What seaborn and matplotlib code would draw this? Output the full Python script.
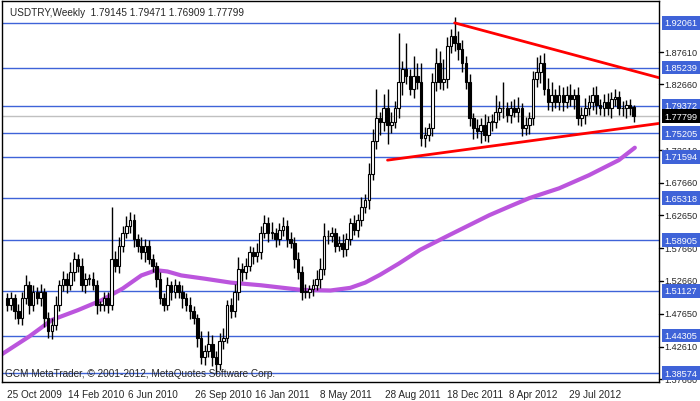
import numpy as np
import pandas as pd
import matplotlib
matplotlib.use("Agg")
import matplotlib.pyplot as plt
import matplotlib.transforms as mtrans
import seaborn as sns

closes = [1.49,1.50,1.48,1.47,1.50,1.52,1.49,1.51,1.50,1.51,1.47,1.45,1.46,1.49,1.52,1.53,1.52,1.54,1.56,1.55,
          1.52,1.53,1.53,1.52,1.49,1.49,1.50,1.49,1.56,1.55,1.58,1.60,1.61,1.62,1.59,1.58,1.57,1.58,1.56,1.55,
          1.53,1.50,1.49,1.52,1.51,1.52,1.51,1.50,1.49,1.48,1.47,1.44,1.41,1.42,1.43,1.41,1.40,1.435,1.44,1.49,
          1.48,1.51,1.545,1.54,1.55,1.57,1.565,1.57,1.60,1.615,1.60,1.60,1.59,1.605,1.61,1.59,1.585,1.56,1.54,1.51,
          1.51,1.515,1.52,1.53,1.545,1.595,1.595,1.60,1.58,1.585,1.575,1.59,1.615,1.605,1.62,1.64,1.65,1.69,1.74,1.775,
          1.77,1.79,1.765,1.77,1.79,1.83,1.85,1.84,1.82,1.84,1.83,1.745,1.75,1.76,1.83,1.86,1.83,1.835,1.885,1.90,
          1.89,1.88,1.86,1.83,1.775,1.76,1.755,1.765,1.75,1.77,1.77,1.785,1.79,1.79,1.78,1.79,1.785,1.79,1.76,1.765,
          1.775,1.835,1.845,1.86,1.82,1.80,1.81,1.80,1.81,1.80,1.81,1.805,1.81,1.775,1.78,1.79,1.80,1.81,1.795,1.79,
          1.80,1.79,1.805,1.807,1.79,1.79,1.795,1.79,1.77799]
first_open = 1.50
last_open = 1.79145
# wick extensions in thousandths (upper, lower)
up_wick = [8,10,6,12,9,15,7,10,8,12,6,9,10,14,8,12,9,15,10,8,
           12,9,7,10,8,6,9,10,80,12,14,10,16,12,9,8,14,10,9,8,
           6,10,8,12,7,9,6,10,8,12,9,6,10,8,20,14,9,12,15,8,
           10,12,18,9,12,10,8,14,10,12,9,16,8,10,14,9,12,8,10,9,
           12,6,10,14,16,20,10,9,8,10,14,10,8,12,9,14,10,16,18,45,
           10,22,30,14,12,75,12,40,10,30,20,30,12,8,14,22,18,30,14,12,
           30,18,14,10,12,8,14,10,16,8,12,26,12,40,10,12,14,18,8,12,
           10,12,24,12,14,16,20,10,16,12,14,18,10,12,12,16,10,12,14,10,
           12,14,10,12,10,12,8,10,16]
lo_wick = [10,8,12,9,10,8,14,10,9,12,14,10,12,8,10,9,12,8,14,10,
           9,12,10,8,14,10,9,12,8,10,12,9,8,10,12,9,10,14,8,10,
           12,9,10,8,12,10,9,14,10,12,9,14,10,12,9,14,15,10,12,8,
           10,9,12,14,10,8,12,9,10,8,14,10,12,9,10,12,8,14,10,12,
           9,10,12,8,14,10,12,9,10,8,12,10,9,8,12,10,9,14,10,12,
           20,14,30,12,10,14,20,12,10,14,10,12,14,10,12,14,10,12,14,10,
           12,16,14,10,12,16,10,18,10,12,14,10,12,14,10,12,8,16,12,10,
           14,10,12,16,10,12,14,10,12,14,10,12,16,10,12,14,10,12,14,10,
           12,10,14,12,10,12,14,10,9]
ma_x = [-1.3,6,12,19,25.3,31,36,40,43,46.7,53,60,68,78.7,86.7,92,96,100,105,110.7,118.7,124,129.3,135,140,148,156,164,168.3]
ma_v = [1.415,1.442,1.467,1.482,1.497,1.515,1.535,1.543,1.541,1.535,1.530,1.524,1.520,1.513,1.512,1.516,1.524,1.536,1.553,1.574,
        1.597,1.612,1.627,1.641,1.653,1.668,1.688,1.711,1.73]
upper_x = [120, 174.7]
upper_y = [1.92061, 1.837]
lower_x = [102, 174.7]
lower_y = [1.711, 1.767]
levels = [1.92061,1.85239,1.79372,1.75205,1.71594,1.65318,1.58905,1.51127,1.44305,1.38574]
plain_ticks = [1.87610,1.82660,1.72610,1.67660,1.62650,1.57660,1.52660,1.47650,1.42610,1.37660]
current = 1.77799
date_pos = [0,16.3,32.3,50.4,66.4,84,101.3,118,134.7,150.7]
date_labels = ["25 Oct 2009","14 Feb 2010","6 Jun 2010","26 Sep 2010","16 Jan 2011","8 May 2011",
               "28 Aug 2011","18 Dec 2011","8 Apr 2012","29 Jul 2012"]

n = len(closes)
opens = [first_open] + closes[:-1]
opens[-1] = last_open
highs = [max(o, c) + u/1000 for o, c, u in zip(opens, closes, up_wick)]
lows = [min(o, c) - l/1000 for o, c, l in zip(opens, closes, lo_wick)]
highs[-1] = 1.79471; lows[-1] = 1.76909

sns.set_style("white")
plt.rcParams['font.family'] = ['Liberation Sans', 'DejaVu Sans']
fig = plt.figure(figsize=(7, 4.02), dpi=100)
ax = fig.add_axes([0.003, 0.047, 0.938, 0.948])
ax.set_xlim(-1.33, 174.7)
ax.set_ylim(1.3721, 1.954)

for lv in levels:
    ax.axhline(lv, color='#3f63d8', lw=1, zorder=1)
ax.axhline(current, color='#c0c0c0', lw=1, zorder=1)

x = np.arange(n)
ax.vlines(x, lows, highs, color='black', lw=1, zorder=3)
for i in range(n):
    o, c = opens[i], closes[i]
    bull = c >= o
    ax.bar(i, max(abs(c - o), 0.0008), bottom=min(o, c), width=0.7,
           color='white' if bull else 'black', edgecolor='black', lw=0.8, zorder=4)

sns.lineplot(x=ma_x, y=ma_v, ax=ax, color='#bb55dd', lw=3, zorder=2)
sns.lineplot(x=upper_x, y=upper_y, ax=ax, color='#ff0000', lw=2, zorder=5)
sns.lineplot(x=lower_x, y=lower_y, ax=ax, color='#ff0000', lw=2, zorder=5)

ax.set_yticks([])
ax.set_xticks(date_pos)
ax.set_xticklabels(date_labels, fontsize=7.2, ha='left')
ax.tick_params(axis='x', length=3, pad=2)
for s in ax.spines.values():
    s.set_color('black'); s.set_linewidth(1)

tr = mtrans.blended_transform_factory(ax.transAxes, ax.transData)
fs = 6.6
for t in plain_ticks:
    ax.text(1.009, t, f"{t:.5f}", transform=tr, fontsize=fs, va='center', ha='left', clip_on=False, zorder=6)
    ax.plot([1.0, 1.006], [t, t], transform=tr, color='black', lw=1, clip_on=False)
for lv in levels:
    ax.text(1.009, lv, f"{lv:.5f}", transform=tr, fontsize=fs, va='center', ha='left', color='white',
            clip_on=False, zorder=7, bbox=dict(boxstyle='square,pad=0.25', fc='#3f63d8', ec='none'))
ax.text(1.009, current, f"{current:.5f}", transform=tr, fontsize=fs, va='center', ha='left', color='white',
        clip_on=False, zorder=8, bbox=dict(boxstyle='square,pad=0.25', fc='black', ec='none'))

ax.text(0.012, 0.985, "USDTRY,Weekly  1.79145 1.79471 1.76909 1.77799", transform=ax.transAxes,
        fontsize=7.2, va='top', ha='left')
ax.text(0.005, 0.012, "GCM MetaTrader, \u00a9 2001-2012, MetaQuotes Software Corp.", transform=ax.transAxes,
        fontsize=7.2, va='bottom', ha='left')
fig.savefig("out.png", dpi=100)
